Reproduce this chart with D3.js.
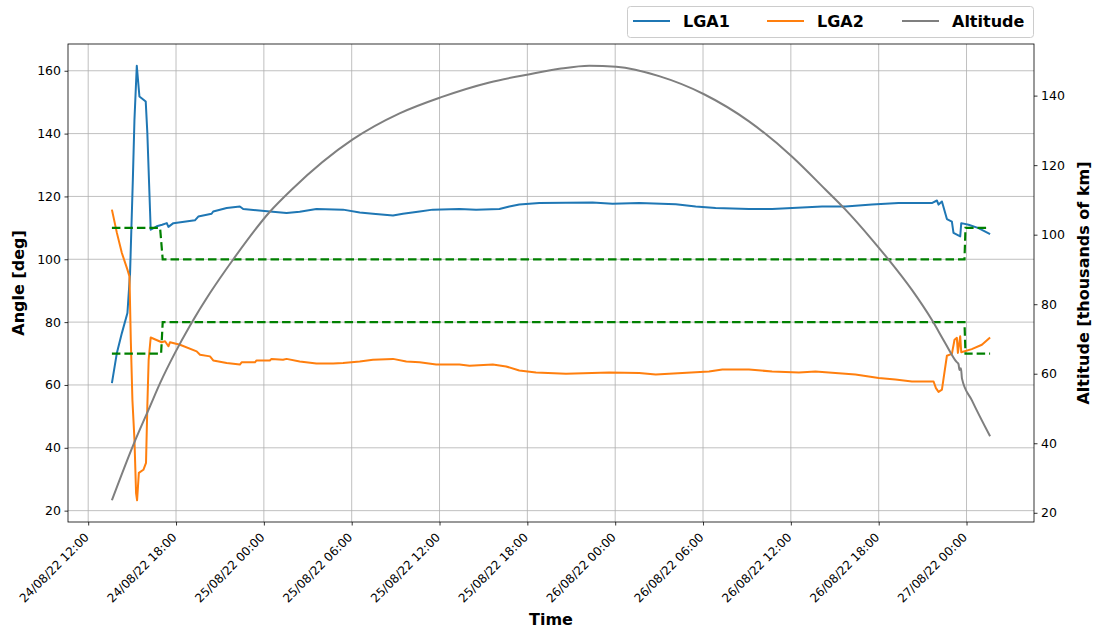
<!DOCTYPE html>
<html>
<head>
<meta charset="utf-8">
<script src="https://cdn.jsdelivr.net/npm/d3@7"></script>
<style>
  html, body { margin: 0; padding: 0; background: #fff; }
  svg { display: block; font-family: "DejaVu Sans", sans-serif; }
</style>
</head>
<body>
<svg id="chart" width="1096" height="629"></svg>
<script>
// ---- DATA (time in hours since 24/08/22 00:00) ----
const lga1 = [
  [13.62,60.6],[13.96,70.2],[14.30,76.5],[14.68,82.9],[14.86,95.6],[15.05,125.3],[15.16,144.4],
  [15.32,161.6],[15.50,151.8],[15.93,150.2],[16.04,140.2],[16.27,109.4],[16.68,110.5],[17.05,111.0],
  [17.37,111.5],[17.48,110.3],[17.82,111.5],[19.29,112.4],[19.52,113.6],[20.43,114.5],[20.54,115.2],
  [21.46,116.3],[22.36,116.8],[22.59,116.0],[23.50,115.6],[24.41,115.2],[25.55,114.7],[26.45,115.1],
  [27.59,116.0],[29.41,115.8],[30.55,114.9],[31.45,114.5],[32.82,113.9],[33.50,114.5],[34.64,115.2],
  [35.54,115.8],[37.36,116.0],[38.50,115.8],[40.09,116.0],[40.77,116.8],[41.45,117.4],[42.82,117.9],
  [46.45,118.1],[47.82,117.7],[49.64,117.9],[52.14,117.5],[53.50,116.8],[54.86,116.3],[57.14,116.0],
  [58.72,116.0],[60.09,116.3],[62.13,116.8],[63.73,116.8],[65.54,117.4],[67.36,117.9],[69.63,117.9],
  [69.98,118.7],[70.09,117.4],[70.32,118.4],[70.66,112.8],[71.00,112.0],[71.11,108.4],[71.57,107.3],
  [71.64,111.5],[72.14,111.0],[72.82,109.9],[73.61,108.0]
];
const lga2 = [
  [13.62,115.8],[13.96,108.4],[14.30,102.0],[14.68,96.7],[14.82,94.5],[14.91,74.4],[15.02,55.3],
  [15.16,42.6],[15.27,25.6],[15.34,23.3],[15.46,32.0],[15.77,33.0],[15.95,35.2],[16.04,53.2],
  [16.13,68.0],[16.27,75.1],[17.02,73.6],[17.25,73.9],[17.48,72.3],[17.59,73.6],[18.27,72.8],
  [19.41,70.7],[19.64,69.6],[20.32,69.1],[20.54,67.8],[21.46,67.0],[22.36,66.5],[22.48,67.2],
  [23.39,67.2],[23.50,67.8],[24.41,67.8],[24.52,68.3],[25.31,68.0],[25.55,68.3],[26.45,67.5],
  [27.59,66.8],[28.73,66.8],[29.41,67.0],[30.55,67.5],[31.45,68.0],[32.82,68.3],[33.73,67.5],
  [34.64,67.2],[35.77,66.5],[37.36,66.5],[38.05,66.1],[39.64,66.5],[40.55,65.9],[41.45,64.6],
  [42.59,64.0],[44.64,63.6],[47.59,64.0],[49.64,63.8],[50.77,63.3],[52.59,63.8],[54.41,64.3],
  [55.32,64.9],[57.14,64.9],[58.72,64.3],[60.55,64.0],[61.68,64.3],[64.41,63.3],[66.00,62.2],
  [67.14,61.7],[68.27,61.1],[69.75,61.1],[69.91,59.0],[70.09,57.8],[70.32,58.5],[70.66,69.3],
  [71.00,69.9],[71.18,74.4],[71.34,75.0],[71.41,70.2],[71.57,75.5],[71.64,70.4],[72.36,71.4],
  [73.05,72.8],[73.61,75.1]
];
const limitUpper = [[13.62,110],[16.91,110],[17.09,100],[71.86,100],[71.93,110],[73.61,110]];
const limitLower = [[13.62,70],[16.98,70],[17.09,80],[71.86,80],[71.93,70],[73.61,70]];
const altitude = [
  [13.62,23.6],[15.07,39.4],[16.23,50.7],[16.91,57.3],[17.93,66.0],[18.95,73.8],[20.32,83.2],
  [21.89,92.8],[24.41,106.6],[25.91,113.0],[30.07,127.4],[33.27,134.9],[36.07,139.5],[39.41,143.8],
  [42.07,146.1],[44.18,147.7],[46.23,148.6],[48.07,148.3],[51.00,145.6],[54.07,140.4],[57.14,132.6],
  [60.07,122.5],[62.36,113.0],[63.73,107.2],[65.54,98.6],[66.68,92.8],[68.27,84.1],[69.63,75.5],
  [70.55,68.8],[71.32,63.4],[71.45,62.8],[71.52,61.1],[71.62,61.6],[71.69,58.6],[72.36,52.4],
  [73.61,42.0]
];
const leftTicks = [20, 40, 60, 80, 100, 120, 140, 160];
const rightTicks = [20, 40, 60, 80, 100, 120, 140];
const seriesNames = ["LGA1", "LGA2", "Altitude"];
const seriesColors = ["#1f77b4", "#ff7f0e", "#7f7f7f"];

// ---- LAYOUT ----
const FONT = "DejaVu Sans";
const svg = d3.select("#chart");
const L = 68, R = 1034, T = 44, B = 522;
const base = new Date(2022, 7, 24, 0, 0, 0).getTime();
const toDate = h => new Date(base + h * 3600e3);

function padded(ext) { const s = ext[1] - ext[0]; return [ext[0] - 0.05 * s, ext[1] + 0.05 * s]; }
const allT = [...lga1, ...lga2, ...altitude].map(d => d[0]);
const tExt = padded(d3.extent(allT));
const x = d3.scaleTime().domain(tExt.map(toDate)).range([L, R]);
const yL = d3.scaleLinear().domain(padded(d3.extent([...lga1, ...lga2].map(d => d[1])))).range([B, T]);
const yR = d3.scaleLinear().domain(padded(d3.extent(altitude.map(d => d[1])))).range([B, T]);

const xTicks = d3.timeHour.every(6).range(x.domain()[0], x.domain()[1]);
const fmt = d3.timeFormat("%d/%m/%y %H:%M");

// grid
const grid = svg.append("g").attr("stroke", "#b0b0b0").attr("stroke-width", 0.8);
xTicks.forEach(t => grid.append("line").attr("x1", x(t)).attr("x2", x(t)).attr("y1", T).attr("y2", B));
leftTicks.forEach(v => grid.append("line").attr("x1", L).attr("x2", R).attr("y1", yL(v)).attr("y2", yL(v)));

// axes
const xAxis = d3.axisBottom(x).tickValues(xTicks).tickFormat(fmt).tickSize(3.5).tickPadding(3.5);
const gx = svg.append("g").attr("transform", `translate(0,${B})`).call(xAxis)
  .attr("font-family", FONT).attr("font-size", 12);
gx.select(".domain").remove();
gx.selectAll("text").attr("fill", "#000")
  .attr("text-anchor", "end").attr("dy", null).attr("y", null)
  .attr("transform", "translate(1,16) rotate(-45)");
gx.selectAll("line").attr("stroke", "#000").attr("stroke-width", 0.8);

const gl = svg.append("g").attr("transform", `translate(${L},0)`)
  .call(d3.axisLeft(yL).tickValues(leftTicks).tickSize(3.5).tickPadding(3.5))
  .attr("font-family", FONT).attr("font-size", 12.5);
gl.select(".domain").remove();
gl.selectAll("text").attr("fill", "#000");
gl.selectAll("line").attr("stroke", "#000").attr("stroke-width", 0.8);

const gr = svg.append("g").attr("transform", `translate(${R},0)`)
  .call(d3.axisRight(yR).tickValues(rightTicks).tickSize(3.5).tickPadding(3.5))
  .attr("font-family", FONT).attr("font-size", 12.5);
gr.select(".domain").remove();
gr.selectAll("text").attr("fill", "#000");
gr.selectAll("line").attr("stroke", "#000").attr("stroke-width", 0.8);

// lines
svg.append("clipPath").attr("id", "clip").append("rect")
  .attr("x", L).attr("y", T).attr("width", R - L).attr("height", B - T);
const plot = svg.append("g").attr("clip-path", "url(#clip)");
const lineL = d3.line().x(d => x(toDate(d[0]))).y(d => yL(d[1]));
const lineR = d3.line().x(d => x(toDate(d[0]))).y(d => yR(d[1])).curve(d3.curveMonotoneX);

plot.append("path").datum(lga1).attr("d", lineL).attr("fill", "none")
  .attr("stroke", seriesColors[0]).attr("stroke-width", 2).attr("stroke-linejoin", "round");
plot.append("path").datum(lga2).attr("d", lineL).attr("fill", "none")
  .attr("stroke", seriesColors[1]).attr("stroke-width", 2).attr("stroke-linejoin", "round");
[limitUpper, limitLower].forEach(dd => plot.append("path").datum(dd).attr("d", lineL)
  .attr("fill", "none").attr("stroke", "#008000").attr("stroke-width", 2.2)
  .attr("stroke-dasharray", "8.5,4"));
plot.append("path").datum(altitude).attr("d", lineR).attr("fill", "none")
  .attr("stroke", seriesColors[2]).attr("stroke-width", 2).attr("stroke-linejoin", "round");

// frame
svg.append("rect").attr("x", L).attr("y", T).attr("width", R - L).attr("height", B - T)
  .attr("fill", "none").attr("stroke", "#000").attr("stroke-width", 0.8);

// axis titles
svg.append("text").attr("x", 551).attr("y", 625).attr("text-anchor", "middle")
  .attr("font-size", 16).attr("font-weight", "bold").text("Time");
svg.append("text").attr("transform", `translate(24,${(T + B) / 2}) rotate(-90)`)
  .attr("text-anchor", "middle").attr("font-size", 16).attr("font-weight", "bold").text("Angle [deg]");
svg.append("text").attr("transform", `translate(1089,${(T + B) / 2}) rotate(-90)`)
  .attr("text-anchor", "middle").attr("font-size", 16).attr("font-weight", "bold").text("Altitude [thousands of km]");

// legend
const lg = svg.append("g");
lg.append("rect").attr("x", 627.5).attr("y", 6.5).attr("width", 406).attr("height", 31).attr("rx", 3)
  .attr("fill", "#fff").attr("stroke", "#cccccc").attr("stroke-width", 1);
const legX = [633, 767, 902];
seriesNames.forEach((n, i) => {
  lg.append("line").attr("x1", legX[i]).attr("x2", legX[i] + 37).attr("y1", 21).attr("y2", 21)
    .attr("stroke", seriesColors[i]).attr("stroke-width", 2);
  lg.append("text").attr("x", legX[i] + 50).attr("y", 27).attr("font-size", 16)
    .attr("font-weight", "bold").text(n);
});
</script>
</body>
</html>
